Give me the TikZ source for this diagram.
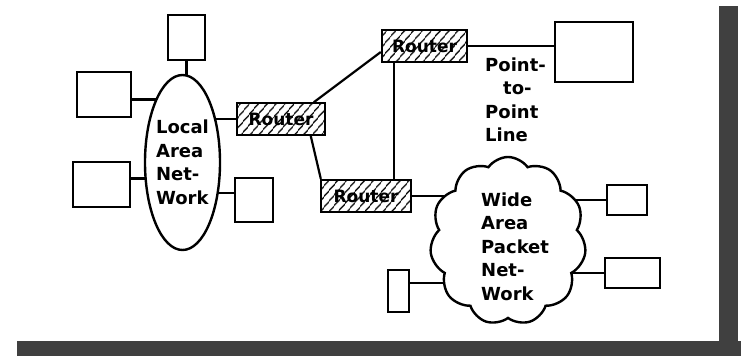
\documentclass[tikz,border=0pt]{standalone}
\usepackage{fontspec}
\setsansfont{DejaVu Sans}
\usetikzlibrary{shapes.geometric, shapes.symbols, patterns.meta, backgrounds, positioning}

\begin{document}
\begin{tikzpicture}[
        x=1pt, y=-1pt,
        font=\sffamily\bfseries\fontsize{18}{23.5}\selectfont,
        host/.style={rectangle, draw=black, line width=2.4pt, fill=white, inner sep=0pt},
        router/.style={rectangle, draw=black, line width=2.4pt, inner sep=0pt, minimum width=88pt, minimum height=32pt,
            pattern={Lines[angle=50, distance=6.5pt, line width=1.4pt]}, font=\sffamily\bfseries\fontsize{17}{20}\selectfont},
        net/.style={draw=black, line width=2.4pt, fill=white, inner sep=0pt, align=left},
        link/.style={line width=2.2pt},
        lbl/.style={align=left, inner sep=0pt, anchor=west},
        shade/.style={fill=black!75, draw=none}
    ]
        \useasboundingbox (0,0) rectangle (741,356);
        \fill[shade] (719,6) rectangle (738,345);
        \fill[shade] (17,341) rectangle (741,356);

        % local network and its hosts
        \node (lan) [net, ellipse, minimum width=75pt, minimum height=175pt] at (182.5,162.5) {Local\\Area\\Net-\\Work};
        \node (topbox) [host, minimum width=37pt, minimum height=45pt] at (186.5,37.5) {};
        \node (lbox1) [host, minimum width=54pt, minimum height=45pt] at (104,94.5) {};
        \node (lbox2) [host, minimum width=57pt, minimum height=45pt] at (101.5,184.5) {};
        \node (rbox) [host, minimum width=38pt, minimum height=44pt] at (254,200) {};

        % routers
        \node (r1) [router] at (281,119) {Router};
        \node (r2) [router, minimum width=85pt] at (424.5,46) {Router};
        \node (r3) [router, minimum width=90pt] at (366,196) {Router};

        % point-to-point line
        \node (ppbox) [host, minimum width=78pt, minimum height=60pt] at (594,52) {};
        \node (pptext) [lbl] at (485,100) {Point-\\\hspace*{18pt}to-\\Point\\Line};

        % wide area network and its hosts
        \node (wan) [net, cloud, cloud puffs=11, cloud puff arc=110, aspect=0.93, minimum width=156pt, minimum height=168pt] at (508,241) {};
        \node (wantext) [lbl] at (481,246.5) {Wide\\Area\\Packet\\Net-\\Work};
        \node (wbox1) [host, minimum width=40pt, minimum height=30pt] at (627,200) {};
        \node (wbox2) [host, minimum width=55pt, minimum height=30pt] at (632.5,273) {};
        \node (wbox3) [host, minimum width=21pt, minimum height=42pt] at (398.5,291) {};

        \begin{pgfonlayer}{background}
            \draw [link] (topbox.south) -- (topbox.south |- lan.center);
            \draw [link] ([yshift=-5pt]lbox1.east) -- ([yshift=-5pt]lbox1.east -| lan.center);
            \draw [link] ([yshift=6pt]lbox2.east) -- ([yshift=6pt]lbox2.east -| lan.center);
            \draw [link] ([yshift=7pt]rbox.west) -- ([yshift=7pt]rbox.west -| lan.center);
            \draw [link] (r1.west) -- (r1.west -| lan.center);
            \draw [link] ([xshift=-12pt]r1.north east) -- ([yshift=-6pt]r2.west);
            \draw [link] ([xshift=-15pt]r1.south east) -- ([xshift=1pt]r3.north west);
            \draw [link] ([xshift=13pt]r2.south west) -- ([xshift=13pt]r2.south west |- r3.north);
            \draw [link] (r2.east) -- (r2.east -| ppbox.west);
            \draw [link] (r3.east) -- (r3.east -| wan.center);
            \draw [link] (wbox1.west) -- (wbox1.west -| wan.center);
            \draw [link] (wbox2.west) -- (wbox2.west -| wan.center);
            \draw [link] ([yshift=8pt]wbox3.east) -- ([yshift=8pt]wbox3.east -| wan.center);
        \end{pgfonlayer}
    \end{tikzpicture}
\end{document}
